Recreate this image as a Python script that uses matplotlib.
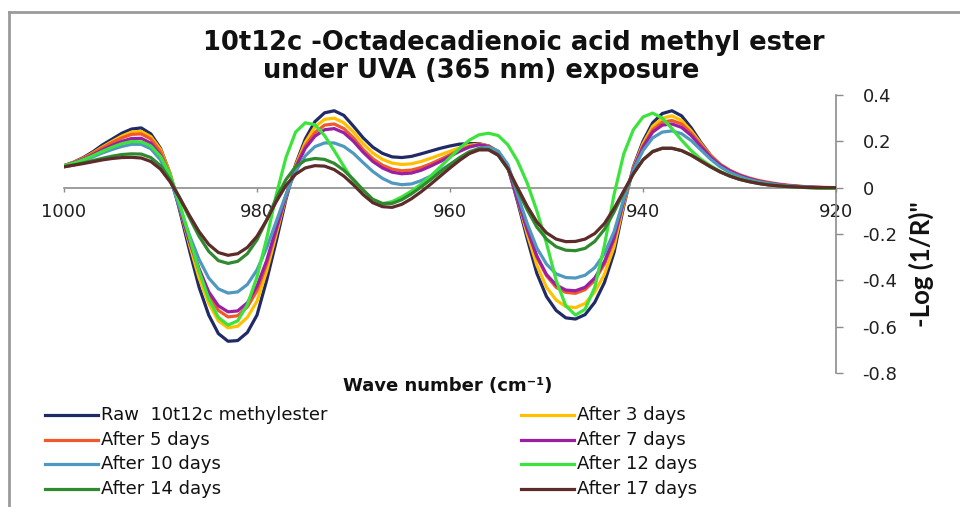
import matplotlib
matplotlib.use("Agg")
import matplotlib.pyplot as plt
from matplotlib.lines import Line2D

wavenumber = list(range(1000, 919, -1))

raw = [0.095, 0.11, 0.13, 0.155, 0.185, 0.21, 0.235, 0.253, 0.258, 0.232,
       0.17, 0.06, -0.10, -0.27, -0.43, -0.55, -0.63, -0.663, -0.66, -0.625,
       -0.55, -0.40, -0.23, -0.05, 0.10, 0.21, 0.285, 0.323, 0.332, 0.312,
       0.265, 0.215, 0.175, 0.148, 0.133, 0.13, 0.135, 0.146, 0.158, 0.17,
       0.18, 0.188, 0.19, 0.19, 0.18, 0.155, 0.09, -0.06, -0.22, -0.37,
       -0.47, -0.53, -0.562, -0.567, -0.548, -0.495, -0.41, -0.28, -0.08, 0.09,
       0.20, 0.28, 0.32, 0.332, 0.31, 0.258, 0.195, 0.14, 0.10, 0.073,
       0.053, 0.038, 0.027, 0.019, 0.013, 0.008, 0.005, 0.003, 0.001, 0.0, 0.0]

day3 = [0.095, 0.108, 0.127, 0.15, 0.176, 0.20, 0.223, 0.24, 0.243, 0.22,
        0.165, 0.06, -0.09, -0.245, -0.39, -0.50, -0.575, -0.605, -0.598, -0.56,
        -0.49, -0.36, -0.20, -0.04, 0.095, 0.195, 0.262, 0.295, 0.30, 0.28,
        0.24, 0.19, 0.15, 0.122, 0.106, 0.10, 0.103, 0.113, 0.127, 0.142,
        0.157, 0.172, 0.183, 0.188, 0.18, 0.155, 0.09, -0.05, -0.20, -0.335,
        -0.43, -0.485, -0.513, -0.518, -0.50, -0.45, -0.375, -0.255, -0.07, 0.085,
        0.19, 0.265, 0.30, 0.31, 0.29, 0.245, 0.19, 0.138, 0.10, 0.073,
        0.053, 0.038, 0.027, 0.019, 0.013, 0.008, 0.005, 0.003, 0.001, 0.0, 0.0]

day5 = [0.095, 0.108, 0.126, 0.148, 0.172, 0.195, 0.215, 0.23, 0.232, 0.21,
        0.155, 0.055, -0.085, -0.23, -0.36, -0.465, -0.53, -0.558, -0.553, -0.515,
        -0.445, -0.33, -0.185, -0.035, 0.09, 0.18, 0.238, 0.27, 0.275, 0.255,
        0.215, 0.165, 0.125, 0.097, 0.08, 0.073, 0.076, 0.087, 0.103, 0.122,
        0.142, 0.162, 0.178, 0.186, 0.18, 0.155, 0.09, -0.045, -0.18, -0.30,
        -0.38, -0.43, -0.452, -0.456, -0.44, -0.40, -0.33, -0.225, -0.06, 0.08,
        0.18, 0.25, 0.283, 0.29, 0.275, 0.235, 0.185, 0.137, 0.10, 0.075,
        0.056, 0.042, 0.031, 0.023, 0.016, 0.011, 0.007, 0.004, 0.002, 0.001, 0.0]

day7 = [0.095, 0.106, 0.122, 0.142, 0.163, 0.183, 0.2, 0.212, 0.213, 0.192,
        0.14, 0.045, -0.09, -0.23, -0.35, -0.45, -0.51, -0.536, -0.532, -0.497,
        -0.425, -0.315, -0.175, -0.035, 0.085, 0.17, 0.222, 0.25, 0.255, 0.237,
        0.2, 0.153, 0.113, 0.085, 0.067, 0.06, 0.063, 0.075, 0.093, 0.113,
        0.135, 0.157, 0.175, 0.185, 0.178, 0.152, 0.085, -0.05, -0.18, -0.295,
        -0.375, -0.42, -0.442, -0.445, -0.43, -0.39, -0.32, -0.215, -0.055, 0.08,
        0.175, 0.24, 0.27, 0.275, 0.26, 0.225, 0.177, 0.132, 0.097, 0.072,
        0.053, 0.039, 0.028, 0.02, 0.014, 0.009, 0.006, 0.003, 0.001, 0.0, 0.0]

day10 = [0.095, 0.104, 0.117, 0.133, 0.15, 0.165, 0.178, 0.187, 0.187, 0.168,
         0.12, 0.035, -0.085, -0.205, -0.31, -0.39, -0.437, -0.455, -0.45, -0.418,
         -0.355, -0.26, -0.145, -0.03, 0.07, 0.137, 0.177, 0.193, 0.193, 0.178,
         0.148, 0.108, 0.07, 0.04, 0.02, 0.013, 0.016, 0.03, 0.05, 0.075,
         0.1, 0.127, 0.152, 0.17, 0.175, 0.158, 0.1, -0.03, -0.155, -0.26,
         -0.33, -0.372, -0.388, -0.39, -0.378, -0.345, -0.285, -0.19, -0.05, 0.075,
         0.16, 0.215, 0.24, 0.245, 0.233, 0.203, 0.163, 0.123, 0.09, 0.066,
         0.048, 0.035, 0.025, 0.018, 0.012, 0.008, 0.005, 0.003, 0.001, 0.0, 0.0]

day12 = [0.095, 0.105, 0.12, 0.138, 0.157, 0.175, 0.19, 0.199, 0.198, 0.18,
         0.135, 0.055, -0.07, -0.215, -0.36, -0.48, -0.56, -0.593, -0.575, -0.505,
         -0.385, -0.22, -0.03, 0.13, 0.24, 0.28, 0.272, 0.225, 0.16, 0.092,
         0.027, -0.03, -0.062, -0.07, -0.06, -0.04, -0.015, 0.015, 0.05, 0.09,
         0.13, 0.17, 0.205, 0.228, 0.235, 0.225, 0.185, 0.115, 0.02, -0.10,
         -0.24, -0.40, -0.51, -0.55, -0.525, -0.43, -0.25, -0.03, 0.145, 0.25,
         0.305, 0.322, 0.30, 0.255, 0.205, 0.16, 0.123, 0.095, 0.07, 0.052,
         0.038, 0.027, 0.019, 0.013, 0.008, 0.005, 0.002, 0.0, -0.002, -0.003, -0.003]

day14 = [0.09, 0.098, 0.107, 0.117, 0.127, 0.136, 0.143, 0.146, 0.145, 0.13,
         0.095, 0.035, -0.045, -0.13, -0.21, -0.275, -0.315, -0.327, -0.318, -0.285,
         -0.225, -0.14, -0.045, 0.035, 0.09, 0.118, 0.126, 0.122, 0.105, 0.075,
         0.035, -0.01, -0.05, -0.068, -0.068, -0.052, -0.027, 0.003, 0.035, 0.068,
         0.1, 0.13, 0.155, 0.168, 0.165, 0.14, 0.08, -0.01, -0.095, -0.17,
         -0.222, -0.255, -0.27, -0.272, -0.262, -0.232, -0.18, -0.105, -0.02, 0.06,
         0.12, 0.157, 0.17, 0.17, 0.16, 0.14, 0.115, 0.09, 0.068, 0.05,
         0.036, 0.026, 0.018, 0.012, 0.008, 0.005, 0.003, 0.001, 0.0, 0.0, 0.0]

day17 = [0.09, 0.097, 0.104, 0.112, 0.12, 0.126, 0.13, 0.131, 0.128, 0.113,
         0.08, 0.025, -0.045, -0.12, -0.19, -0.245, -0.28, -0.292, -0.285, -0.258,
         -0.21, -0.14, -0.06, 0.01, 0.058, 0.085, 0.095, 0.093, 0.078, 0.05,
         0.012, -0.03, -0.065, -0.082, -0.085, -0.072, -0.048, -0.018, 0.015, 0.05,
         0.085, 0.118, 0.147, 0.163, 0.163, 0.14, 0.082, 0.0, -0.08, -0.148,
         -0.195, -0.222, -0.233, -0.232, -0.222, -0.198, -0.155, -0.09, -0.015, 0.06,
         0.12, 0.155, 0.17, 0.17, 0.16, 0.14, 0.115, 0.09, 0.068, 0.05,
         0.036, 0.026, 0.018, 0.012, 0.008, 0.005, 0.003, 0.001, 0.0, 0.0, 0.0]

series_labels = ["Raw  10t12c methylester", "After 3 days", "After 5 days", "After 7 days",
                 "After 10 days", "After 12 days", "After 14 days", "After 17 days"]
series_colors = ["#1F2A66", "#FFC000", "#F2592A", "#9A1FA3",
                 "#4F98C0", "#3DE33D", "#2F8A2F", "#5E2B2B"]
series_values = [raw, day3, day5, day7, day10, day12, day14, day17]

x_ticks = [1000, 980, 960, 940, 920]
y_ticks = [0.4, 0.2, 0, -0.2, -0.4, -0.6, -0.8]

fig = plt.figure(figsize=(9.6, 5.07), dpi=100)
ax = fig.add_axes([64 / 960, 1 - 373 / 507, 772 / 960, 278 / 507])

draw_order = [0, 1, 2, 3, 4, 6, 7, 5]
for i in draw_order:
    ax.plot(wavenumber, series_values[i], color=series_colors[i], lw=2.3,
            solid_joinstyle="round", solid_capstyle="round", zorder=3 + i * 0.1)

ax.set_xlim(1000, 920)
ax.set_ylim(-0.8, 0.4)

for s in ["left", "top"]:
    ax.spines[s].set_visible(False)
ax.spines["bottom"].set_position(("data", 0))
ax.spines["bottom"].set_color("#8C8C8C")
ax.spines["bottom"].set_linewidth(1.2)
ax.spines["right"].set_color("#8C8C8C")
ax.spines["right"].set_linewidth(1.2)

ax.set_xticks(x_ticks)
ax.set_xticklabels([str(v) for v in x_ticks])
ax.tick_params(axis="x", direction="out", length=3, width=1, color="#8C8C8C",
               labelsize=13, pad=8, labelcolor="#202020")
ax.yaxis.tick_right()
ax.set_yticks(y_ticks)
ax.set_yticklabels(["0.4", "0.2", "0", "-0.2", "-0.4", "-0.6", "-0.8"])
ax.tick_params(axis="y", direction="out", length=5, width=1, color="#8C8C8C",
               labelsize=13, pad=14, labelcolor="#202020")
for lbl in ax.get_xticklabels() + ax.get_yticklabels():
    lbl.set_family("DejaVu Sans")

fig.text(921 / 960, 1 - 264 / 507, '-Log (1/R)"', rotation=90, ha="center", va="center",
         fontsize=18.5, fontweight="bold", family="Lato", color="#111111")

fig.text(448 / 960, 1 - 386 / 507, "Wave number (cm⁻¹)", ha="center", va="center",
         fontsize=13, fontweight="bold", family="DejaVu Sans", color="#111111")

fig.text(514 / 960, 1 - 43 / 507, "10t12c -Octadecadienoic acid methyl ester",
         ha="center", va="center", fontsize=18.5, fontweight="bold", family="DejaVu Sans",
         color="#111111")
fig.text(481 / 960, 1 - 71 / 507, "under UVA (365 nm) exposure",
         ha="center", va="center", fontsize=18.5, fontweight="bold", family="DejaVu Sans",
         color="#111111")

# legend (two columns)
col_x = [45, 521]
row_y = [415, 440, 464, 489]
for k in range(8):
    col = k % 2
    row = k // 2
    x0 = col_x[col]
    y0 = 1 - row_y[row] / 507
    fig.add_artist(Line2D([x0 / 960, (x0 + 53) / 960], [y0, y0], color=series_colors[k], lw=2.3))
    fig.text((x0 + 56) / 960, y0, series_labels[k], ha="left", va="center",
             fontsize=13, family="DejaVu Sans", color="#111111")

# outer chart border
fig.add_artist(Line2D([9 / 960, 9 / 960], [0, 1 - 12 / 507], color="#9A9A9A", lw=2))
fig.add_artist(Line2D([9 / 960, 1], [1 - 12 / 507, 1 - 12 / 507], color="#9A9A9A", lw=2))

fig.savefig("out.png", dpi=100)
